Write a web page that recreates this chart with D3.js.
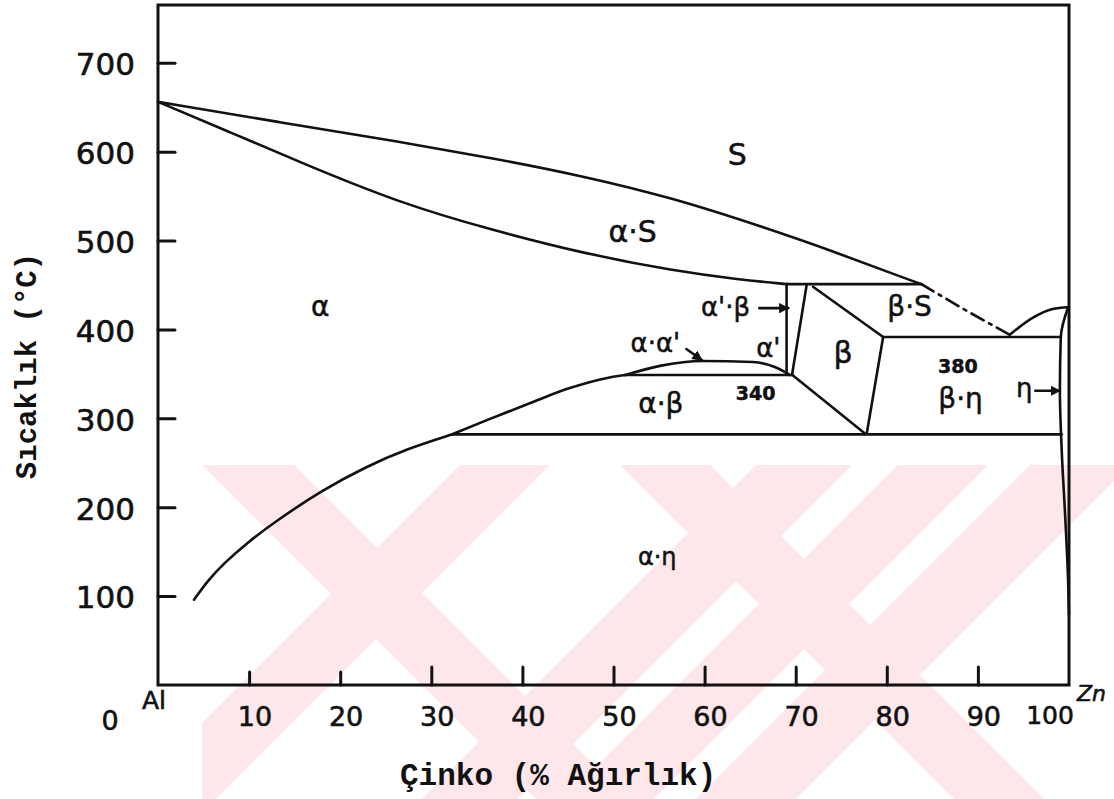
<!DOCTYPE html>
<html>
    <head>
        <meta charset="utf-8" />
        <style>
            body{ margin: 0; background: #fff; }
            svg{ width: 1114px; height: 799px; display: block; }
            .axis text{ font-family: "DejaVu Sans", sans-serif; fill: #111; stroke: #111; stroke-width: 0.6px; }
            .title{ font-family: "Liberation Mono", monospace; font-weight: bold; fill: #111; }
            .phase{ font-family: "DejaVu Sans", sans-serif; fill: #111; stroke: #111; stroke-width: 0.5px; }
            .line{ fill: none; stroke: #111; stroke-width: 2.6px; stroke-linecap: round; stroke-linejoin: round; }
        </style>
    </head>
    <body>
        <svg id="diagram"></svg>
        <script src="https://cdnjs.cloudflare.com/ajax/libs/d3/7.8.5/d3.min.js" charset="utf-8"></script>
        <script>
            // tick values
            var yTicks = [100, 200, 300, 400, 500, 600, 700];
            var xTicks = [10, 20, 30, 40, 50, 60, 70, 80, 90];

            // phase boundaries, [% Zn, temperature C]
            var liquidus = [[0, 656], [13.4, 633], [26.6, 611], [36.6, 593], [46.5, 573], [56.5, 548], [66.5, 515], [74.1, 488], [81.6, 459], [83.8, 451]];
            var liquidusDashed = [[83.8, 451], [88.6, 422], [93.5, 394]];
            var liquidusZn = [[93.5, 394], [96.0, 413], [98.2, 423], [99.9, 425]];
            var solidus = [[0, 656], [7.9, 622], [15.6, 588], [26.6, 542], [36.6, 512], [46.5, 486], [56.5, 466], [63.9, 456], [69.0, 451]];
            var peritectic = [[69.0, 451], [83.8, 451]];
            var alphaPrimeBeta = [[69.0, 451], [69.0, 349]];
            var betaLeft = [[71.2, 450], [69.6, 349]];
            var betaUpper = [[71.9, 448], [79.6, 391.5]];
            var eutectic380 = [[79.6, 391.5], [99.1, 391.5]];
            var betaLowerRight = [[79.6, 391.5], [77.8, 283]];
            var betaLowerLeft = [[69.6, 349], [77.6, 283]];
            var eutectoid = [[32.3, 282], [99.2, 282]];
            var solvus = [[3.95, 96], [5.5, 118], [7.24, 137], [9.8, 160], [12.6, 182], [18.0, 219], [22.7, 245], [27.4, 266], [32.3, 282]];
            var solvusUpper = [[32.3, 282], [36.1, 298], [40.8, 317], [45.2, 334], [49.3, 345.4], [51.3, 348.7]];
            var monotectoid340 = [[51.3, 348.7], [69.6, 348.7]];
            var dome = [[51.3, 348.7], [55.1, 359], [59.8, 364.5], [65.3, 363.4], [67.7, 357.7], [69.4, 348.7]];
            var etaSolvus = [[99.9, 425], [99.1, 391.5], [99.0, 332], [99.2, 264], [99.6, 186], [99.9, 118], [100, 80]];

            var arrows = [
                [[66.0, 424], [69.2, 424]],
                [[58.0, 378], [59.7, 365.5]],
                [[96.3, 331], [99.0, 331]]
            ];

            var phaseLabels = [
                {text: 'S', p: 63.6, t: 585, size: 30},
                {text: 'α·S', p: 52.1, t: 498, size: 30},
                {text: 'α', p: 17.8, t: 415, size: 28},
                {text: "α'·β", p: 62.3, t: 415, size: 26},
                {text: "α·α'", p: 54.6, t: 374.6, size: 26},
                {text: "α'", p: 67.0, t: 369, size: 26},
                {text: 'β', p: 75.2, t: 362, size: 30},
                {text: 'β·S', p: 82.5, t: 415, size: 28},
                {text: '340', p: 65.6, t: 320.6, size: 19},
                {text: 'α·β', p: 55.2, t: 306, size: 28},
                {text: '380', p: 87.8, t: 351, size: 19},
                {text: 'β·η', p: 88.1, t: 311.6, size: 28},
                {text: 'η', p: 95.1, t: 324, size: 26},
                {text: 'α·η', p: 54.8, t: 135, size: 24}
            ];

            var svg = d3.select('#diagram');
            var width = 1114, height = 799;

            var x = d3.scaleLinear().domain([0, 100]).range([158, 1069]);
            var y = d3.scaleLinear().domain([0, 765]).range([685, 5]);

            // pale watermark bands in the lower part of the page: [left at top, width, run per px of drop]
            var wm = svg.append('g');
            wm.append('clipPath').attr('id', 'wm-clip')
                .append('rect').attr('x', 202).attr('y', 465).attr('width', width - 202).attr('height', height - 465);
            var bands = [[202, 92, 1.0], [620, 90, 1.0], [460, 90, -1.0], [756, 96, -1.0], [898, 90, -1.0], [1030, 100, -1.0]];
            wm.selectAll('polygon')
                .data(bands)
                .enter().append('polygon')
                .attr('clip-path', 'url(#wm-clip)')
                .attr('fill', '#fde7ea')
                .attr('points', function(d){
                    var dy = height - 465;
                    return [[d[0], 465], [d[0] + d[1], 465], [d[0] + d[1] + d[2] * dy, height], [d[0] + d[2] * dy, height]].join(' ');
                });

            svg.append('defs').append('marker')
                .attr('id', 'arrow')
                .attr('viewBox', '0 0 10 10')
                .attr('refX', 9).attr('refY', 5)
                .attr('markerWidth', 4).attr('markerHeight', 4)
                .attr('orient', 'auto')
                .append('path').attr('d', 'M0,0L10,5L0,10z').attr('fill', '#111');

            // frame
            svg.append('rect')
                .attr('x', x(0)).attr('y', y(765))
                .attr('width', x(100) - x(0)).attr('height', y(0) - y(765))
                .attr('fill', 'none').attr('stroke', '#111').attr('stroke-width', 3);

            var yAxis = svg.append('g').attr('class', 'axis')
                .attr('transform', 'translate(' + x(0) + ',0)')
                .call(d3.axisLeft(y).tickValues(yTicks).tickSize(-17).tickPadding(23));
            yAxis.select('.domain').remove();
            yAxis.selectAll('text').attr('font-size', 31).attr('dy', '0.38em');

            var xAxis = svg.append('g').attr('class', 'axis')
                .attr('transform', 'translate(0,' + y(0) + ')')
                .call(d3.axisBottom(x).tickValues(xTicks).tickSize(-18).tickPadding(22));
            xAxis.select('.domain').remove();
            xAxis.selectAll('text').attr('font-size', 27).attr('dx', '0.2em');
            xAxis.selectAll('.tick line').filter(function(d){ return d <= 20; }).attr('y2', -13);

            svg.selectAll('.axis .tick line')
                .attr('stroke', '#111').attr('stroke-width', 3).attr('stroke-linecap', 'round');

            var axisText = svg.append('g').attr('class', 'axis');
            axisText.append('text').text('0').attr('x', x(0) - 48).attr('y', y(0) + 45)
                .attr('text-anchor', 'middle').attr('font-size', 27);
            axisText.append('text').text('Al').attr('x', x(0) - 16).attr('y', y(0) + 24)
                .attr('font-size', 25);
            axisText.append('text').text('100').attr('x', x(100) - 19).attr('y', y(0) + 39)
                .attr('text-anchor', 'middle').attr('font-size', 25);
            axisText.append('text').text('Zn').attr('x', x(100) + 8).attr('y', y(0) + 16)
                .attr('font-size', 22).attr('font-style', 'italic');

            svg.append('text').attr('class', 'title')
                .text('Çinko (% Ağırlık)')
                .attr('x', 400).attr('y', 785)
                .attr('font-size', 31);

            svg.append('text').attr('class', 'title')
                .text('Sıcaklık (°C)')
                .attr('text-anchor', 'middle')
                .attr('transform', 'translate(36,366) rotate(-90)')
                .attr('font-size', 29);

            var smooth = d3.line().x(function(d){ return x(d[0]); }).y(function(d){ return y(d[1]); })
                .curve(d3.curveMonotoneX);
            var soft = d3.line().x(function(d){ return x(d[0]); }).y(function(d){ return y(d[1]); })
                .curve(d3.curveBasis);
            var smoothY = d3.line().x(function(d){ return x(d[0]); }).y(function(d){ return y(d[1]); })
                .curve(d3.curveMonotoneY);
            var straight = d3.line().x(function(d){ return x(d[0]); }).y(function(d){ return y(d[1]); });

            svg.selectAll('.curve').data([liquidus, solidus, solvus]).enter().append('path')
                .attr('class', 'line curve').attr('d', soft);
            svg.selectAll('.curve2').data([liquidusZn, solvusUpper, dome]).enter().append('path')
                .attr('class', 'line curve2').attr('d', smooth);
            svg.append('path').datum(etaSolvus)
                .attr('class', 'line').attr('d', smoothY);

            var segments = [peritectic, alphaPrimeBeta, betaLeft, betaUpper, eutectic380,
                betaLowerRight, betaLowerLeft, eutectoid, monotectoid340];
            svg.selectAll('.segment').data(segments).enter().append('path')
                .attr('class', 'line segment').attr('d', straight);
            svg.append('path').datum(liquidusDashed)
                .attr('class', 'line').attr('stroke-dasharray', '14 6 3 6')
                .attr('d', smooth);

            svg.selectAll('.arrow').data(arrows).enter().append('path')
                .attr('class', 'line arrow').attr('stroke-width', 2)
                .attr('marker-end', 'url(#arrow)')
                .attr('d', straight);

            svg.selectAll('.phase').data(phaseLabels).enter().append('text')
                .attr('class', 'phase')
                .text(function(d){ return d.text; })
                .attr('x', function(d){ return x(d.p); })
                .attr('y', function(d){ return y(d.t); })
                .attr('text-anchor', 'middle')
                .attr('font-size', function(d){ return d.size; })
                .attr('font-weight', function(d){ return /\d/.test(d.text) ? 'bold' : 'normal'; });
        </script>
    </body>
</html>
